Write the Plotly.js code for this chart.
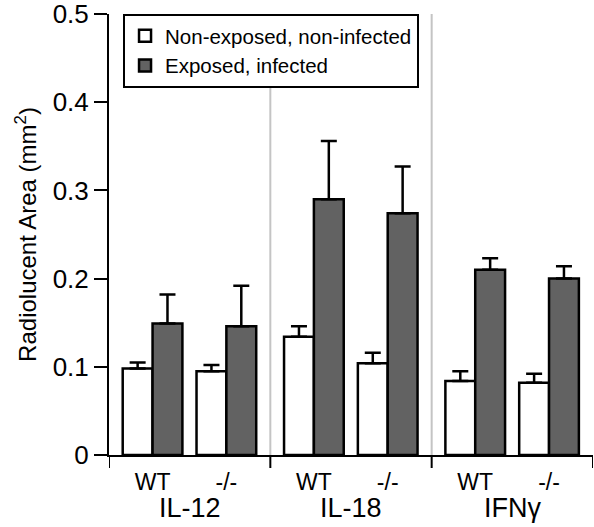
<!DOCTYPE html>
<html>
<head>
<meta charset="utf-8">
<script src="https://cdn.plot.ly/plotly-3.0.1.min.js"></script>
<style>html,body{margin:0;padding:0;background:#fff;}#chart{width:594px;height:527px;}</style>
</head>
<body>
<div id="chart"></div>
<script>
// ---- data ----
const groups = ["IL-12", "IL-18", "IFNγ"];
const genotypes = ["WT", "-/-"];
const seriesNames = ["Non-exposed, non-infected", "Exposed, infected"];
// values ordered: IL-12 WT, IL-12 -/-, IL-18 WT, IL-18 -/-, IFNγ WT, IFNγ -/-
const nonExposed = [0.098, 0.095, 0.134, 0.104, 0.084, 0.082];
const nonExposedErr = [0.007, 0.007, 0.012, 0.012, 0.011, 0.010];
const exposed = [0.149, 0.146, 0.290, 0.274, 0.210, 0.200];
const exposedErr = [0.033, 0.046, 0.066, 0.053, 0.013, 0.014];
const yTicks = [0, 0.1, 0.2, 0.3, 0.4, 0.5];

// ---- layout helpers (positions) ----
const sectionWidth = 2;
const subPos = [0.54, 1.455];
const barW = 0.37;
const xPos = [], xLabels = [];
groups.forEach((g, gi) => genotypes.forEach((t, ti) => {
  xPos.push(gi * sectionWidth + subPos[ti]);
  xLabels.push(t);
}));

const common = {
  type: "bar",
  x: xPos,
  width: xPos.map(() => barW),
  cliponaxis: false
};
const traces = [
  Object.assign({}, common, {
    name: seriesNames[0], y: nonExposed,
    offset: -barW,
    marker: {color: "#ffffff", line: {color: "#000", width: 2.5}},
    error_y: {type: "data", symmetric: false, array: nonExposedErr, arrayminus: nonExposed.map(() => 0), color: "#000", thickness: 2.5, width: 8}
  }),
  Object.assign({}, common, {
    name: seriesNames[1], y: exposed,
    offset: 0,
    marker: {color: "#626262", line: {color: "#000", width: 2.5}},
    error_y: {type: "data", symmetric: false, array: exposedErr, arrayminus: exposed.map(() => 0), color: "#000", thickness: 2.5, width: 8}
  })
];

const shapes = [];
for (let i = 1; i < groups.length; i++) {
  shapes.push({type: "line", xref: "x", yref: "paper", x0: i * sectionWidth, x1: i * sectionWidth, y0: 0, y1: 1, line: {color: "#c4c4c4", width: 2}, layer: "below"});
}
for (let i = 0; i <= groups.length; i++) {
  shapes.push({type: "line", xref: "x", yref: "paper", x0: i * sectionWidth, x1: i * sectionWidth, y0: 0, y1: -0.0295, line: {color: "#000", width: 2}});
}
const annotations = groups.map((g, gi) => ({
  text: g, xref: "x", yref: "paper", x: gi * sectionWidth + sectionWidth / 2, y: -0.12,
  yanchor: "middle", showarrow: false, font: {size: 27, color: "#000"}
}));

const layout = {
  width: 594, height: 527,
  margin: {l: 109, r: 1, t: 14, b: 72},
  paper_bgcolor: "#fff", plot_bgcolor: "#fff",
  font: {family: "Liberation Sans, Arial, sans-serif", color: "#000"},
  barmode: "overlay",
  showlegend: true,
  legend: {x: 0.029, y: 1.0, xanchor: "left", yanchor: "top", bgcolor: "#fff", bordercolor: "#000", borderwidth: 2, font: {size: 20.5}, traceorder: "normal"},
  xaxis: {
    range: [0, groups.length * sectionWidth], tickvals: xPos, ticktext: xLabels, ticks: "",
    showline: true, linecolor: "#000", linewidth: 2, showgrid: false, zeroline: false,
    tickfont: {size: 23}, ticklabelstandoff: 5, fixedrange: true
  },
  yaxis: {
    range: [0, 0.5], tickvals: yTicks, ticktext: yTicks.map(v => String(v)),
    ticks: "outside", ticklen: 13, tickwidth: 2, tickcolor: "#000",
    showline: true, linecolor: "#000", linewidth: 2, showgrid: false, zeroline: false,
    tickfont: {size: 26}, ticklabeloverflow: "allow",
    title: {text: "Radiolucent Area (mm<sup>2</sup>)", font: {size: 24}, standoff: 9}
  },
  shapes: shapes,
  annotations: annotations
};
Plotly.newPlot("chart", traces, layout, {staticPlot: true});
</script>
</body>
</html>
